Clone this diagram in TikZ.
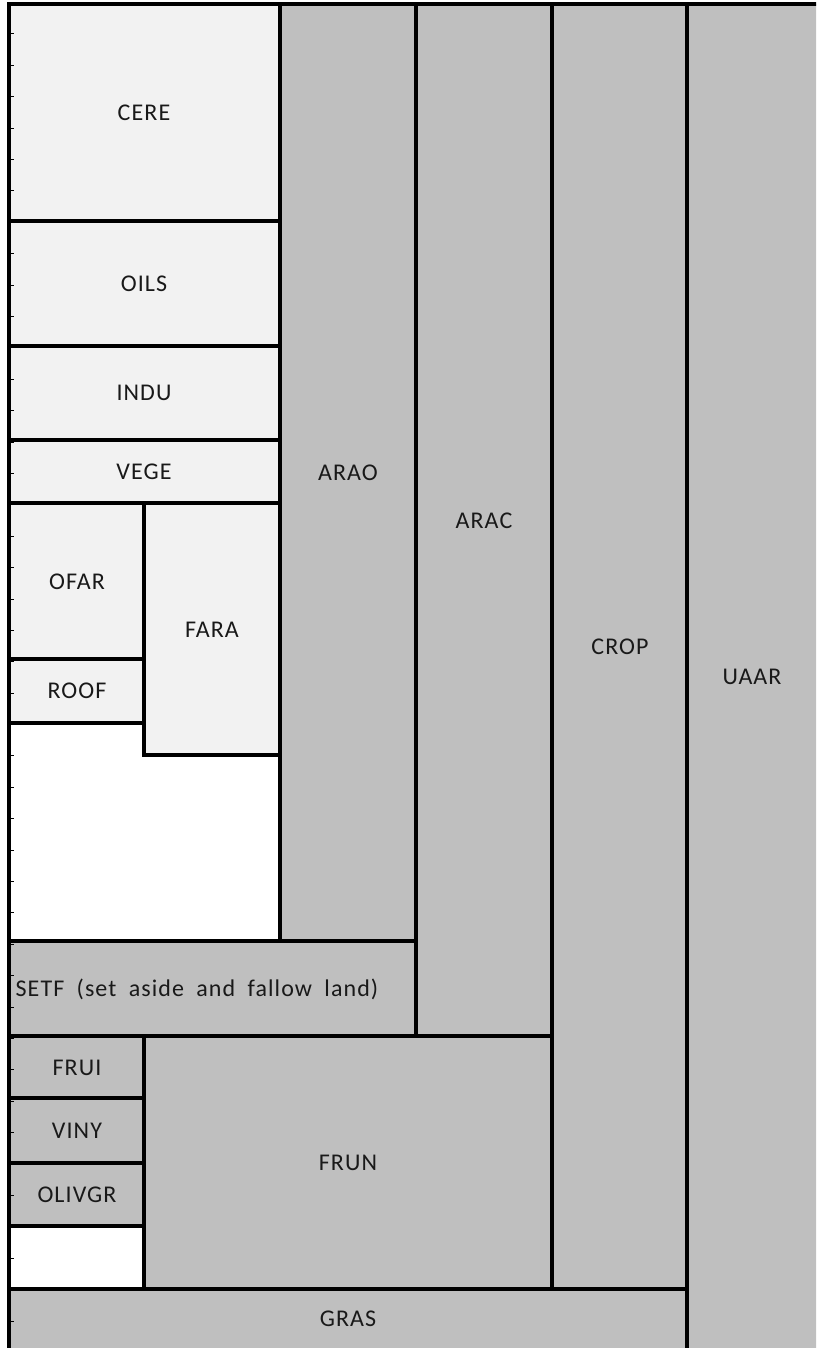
\documentclass[tikz,border=0pt]{standalone}
\usepackage{fontspec}
\setmainfont{Carlito}[LetterSpace=4.5, WordSpace=1.9]
\usepackage{xcolor}
\definecolor{lightcell}{RGB}{242,242,242}
\definecolor{greycell}{RGB}{191,191,191}

\begin{document}
\begin{tikzpicture}[
  x=1pt, y=-1pt,
  cell/.style={draw=black, line width=4pt, line join=miter},
  lite/.style={cell, fill=lightcell},
  grey/.style={cell, fill=greycell},
  blank/.style={cell, fill=white},
  lbl/.style={font=\fontsize{24}{28}\selectfont, text=black!90, inner sep=0pt},
  tick/.style={line width=1pt, black},
]

\useasboundingbox (0,0) rectangle (816,1348);
\fill[white] (0,0) rectangle (816,1348);
\clip (0,0) rectangle (816,1348);

% ---------- big columns ----------
\draw[grey] (687,4) rectangle (840,1370);
\draw[grey] (552,4) rectangle (687,1289);
\draw[grey] (416,4) rectangle (552,1036);
\draw[grey] (280,4) rectangle (416,941);

% ---------- arable crops ----------
\draw[lite] (9,4) rectangle (280,221);
\draw[lite] (9,221) rectangle (280,346);
\draw[lite] (9,346) rectangle (280,440);
\draw[lite] (9,440) rectangle (280,503);
\draw[lite] (9,503) rectangle (144,659);
\draw[lite] (9,659) rectangle (144,723);
\draw[lite] (144,503) rectangle (280,755);
\draw[blank] (9,723) -- (144,723) -- (144,755) -- (280,755) -- (280,941) -- (9,941) -- cycle;

% ---------- set aside, permanent crops, grass ----------
\draw[grey] (9,941) rectangle (416,1036);
\draw[grey] (144,1036) rectangle (552,1289);
\draw[grey] (9,1036) rectangle (144,1098);
\draw[grey] (9,1098) rectangle (144,1163);
\draw[grey] (9,1163) rectangle (144,1226);
\draw[blank] (9,1226) rectangle (144,1289);
\draw[grey] (9,1289) rectangle (687,1370);

% ---------- labels ----------
\node[lbl] (cere) at (144,113) {CERE};
\node[lbl] (oils) at (144,284) {OILS};
\node[lbl] (indu) at (144,393) {INDU};
\node[lbl] (vege) at (144,472) {VEGE};
\node[lbl] (ofar) at (77,582) {OFAR};
\node[lbl] (roof) at (77,691) {ROOF};
\node[lbl] (fara) at (212,630) {FARA};
\node[lbl] (arao) at (348,473) {ARAO};
\node[lbl] (arac) at (484,521) {ARAC};
\node[lbl] (crop) at (620,647) {CROP};
\node[lbl] (uaar) at (752,677) {UAAR};
\node[lbl] (setf) at (197,989) {SETF (set aside and fallow land)};
\node[lbl] (frui) at (77,1068) {FRUI};
\node[lbl] (viny) at (77,1131) {VINY};
\node[lbl] (olivgr) at (77,1195) {OLIVGR};
\node[lbl] (frun) at (348,1163) {FRUN};
\node[lbl] (gras) at (348,1319) {GRAS};

% ruler marks on the left edge
\foreach \k in {0,...,41}
  \draw[tick] ({11},{34+31.39*\k}) -- ({13.5},{34+31.39*\k});

\end{tikzpicture}
\end{document}
